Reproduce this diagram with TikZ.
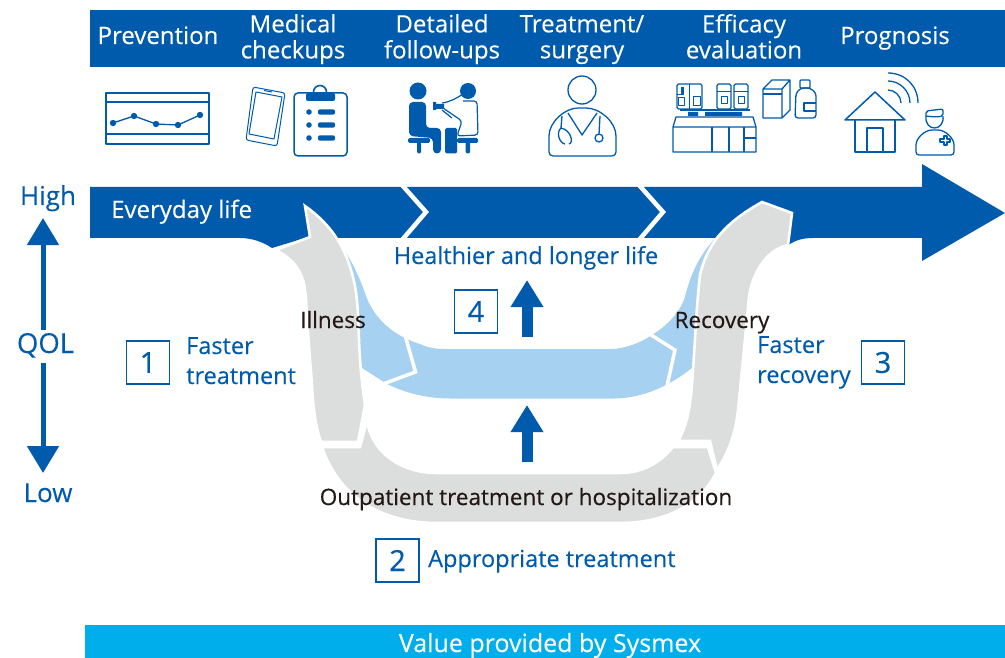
\documentclass[tikz,border=0pt]{standalone}
\usepackage{fontspec}
\setmainfont[FakeBold=0.2]{Open Sans}
\newfontfamily\labelfont[FakeBold=0.5]{Open Sans}
\newcommand{\twolines}[2]{\rule{0pt}{18pt}#1\\#2\rule[-6pt]{0pt}{6pt}}
\usetikzlibrary{arrows.meta}
\definecolor{sysblue}{HTML}{005BAC}
\definecolor{skyfill}{HTML}{A7D1F1}
\definecolor{greyfill}{HTML}{DCDDDD}
\definecolor{cyanbar}{HTML}{00AEEB}
\definecolor{inkblack}{HTML}{231815}
\tikzset{
  head/.style={text=white,font=\fontsize{24}{26}\selectfont,align=center,inner sep=0},
  bluetxt/.style={text=sysblue,font=\fontsize{23.5}{30}\selectfont,inner sep=0},
  axistxt/.style={text=sysblue,font=\fontsize{26}{30}\selectfont,inner sep=0},
  blacktxt/.style={text=inkblack,font=\labelfont\fontsize{22.5}{25}\selectfont,inner sep=0},
  numbox/.style={draw=sysblue,line width=1.2pt,fill=white,minimum size=43pt,inner sep=0,text=sysblue,font=\labelfont\fontsize{29}{30}\selectfont},
  bigup/.style={draw=sysblue,line width=11pt,-{Triangle[length=27pt,width=31pt]}},
  qolarrow/.style={draw=sysblue,line width=5pt,-{Triangle[length=27pt,width=31pt]}},
  icon/.style={draw=sysblue,line width=1.3pt,line join=round,fill=none},
  iconthin/.style={draw=sysblue,line width=1pt,line join=round,fill=none},
  solidic/.style={fill=sysblue,draw=none},
  band/.style={fill=greyfill,draw=white,line width=2.6pt,line join=miter},
  gapline/.style={draw=white,line width=3.5pt,line join=miter},
}
\begin{document}
\begin{tikzpicture}[x=1pt,y=-1pt]
\useasboundingbox (0,0) rectangle (1005,658);
% bars
\fill[sysblue] (90,10) rectangle (1005,67);
\fill[cyanbar] (85,625) rectangle (1005,658);
% main arrow
\fill[sysblue] (90,187) -- (922,187) -- (922,164) -- (1005,213) -- (922,261) -- (922,238) -- (813,238)
  .. controls (803,238) and (795,240) .. (787,246) -- (770,238) -- (305,238) -- (272,248)
  .. controls (263,242) and (252,238) .. (240,238) -- (90,238) -- cycle;
\draw[white,line width=4.5pt,line join=miter] (402,185) -- (426,212) -- (402,240);
\draw[white,line width=4.5pt,line join=miter] (639,185) -- (663,212) -- (639,240);
% sky band
\fill[skyfill] (330,233) .. controls (343,245) and (355,265) .. (365,293)
  .. controls (372,315) and (390,335) .. (420,344) .. controls (428,348) and (437,349) .. (445,349) -- (610,349)
  .. controls (625,349) and (640,343) .. (652,335) .. controls (668,325) and (680,312) .. (685,297)
  .. controls (690,275) and (700,255) .. (712,242) .. controls (725,225) and (742,213) .. (760,203)
  -- (720,300) -- (693,367) .. controls (680,378) and (660,390) .. (640,395) .. controls (632,397) and (622,398.5) .. (615,398.5)
  -- (450,398.5) .. controls (428,398.5) and (405,393) .. (387,384) -- (362,368) -- (340,300) -- cycle;
\draw[gapline] (405,335) -- (415.5,372) -- (383,384);
\draw[gapline] (648,333) -- (675,350) -- (667,386);
% grey bands
\path[band] (276,250) -- (310,237) -- (305,206)
  .. controls (325,220) and (342,240) .. (350,267)
  .. controls (356,285) and (358,300) .. (359,340)
  .. controls (360,365) and (362,385) .. (365,405) -- (358,442) -- (321,442)
  .. controls (315,425) and (313,405) .. (312,385) -- (308,333)
  .. controls (306,300) and (306,285) .. (301,275)
  .. controls (296,263) and (287,256) .. (276,250) -- cycle;
\path[band] (322,447) -- (360,447) -- (367,421)
  .. controls (372,452) and (400,473) .. (437,473) -- (620,473)
  .. controls (642,473) and (660,463) .. (673,447) -- (708,447) -- (716,473)
  .. controls (700,505) and (665,523) .. (620,523) -- (437,523)
  .. controls (385,523) and (340,500) .. (322,447) -- cycle;
\path[band] (678,441) .. controls (686,428) and (690,410) .. (692,385)
  .. controls (695,345) and (696,310) .. (700,275)
  .. controls (708,240) and (730,220) .. (762,202) -- (792,213) -- (788,245)
  .. controls (765,250) and (752,275) .. (749,297)
  .. controls (746,330) and (742,370) .. (738,410)
  .. controls (736,430) and (730,450) .. (717,470) -- (710,441) -- cycle;
% icon 1: chart
\draw[icon] (106,93) rectangle (209,144) (106,102) -- (209,102) (106,134) -- (209,134);
\draw[icon] (113,123) -- (134,116) -- (156,124) -- (178,125) -- (200,115);
\foreach \p in {(113,123),(134,116),(156,124),(178,125),(200,115)} \fill[sysblue] \p circle (3.2);
% icon 2: phone
\draw[iconthin,rounded corners=2.5pt] (253,87) -- (285,93) -- (277,146) -- (246,140) -- cycle;
\draw[iconthin] (256,92) -- (282,97) -- (274,139) -- (249,134) -- cycle;
\draw[iconthin] (264,90.5) -- (272,92);
% clipboard
\draw[icon,line width=1.5pt,rounded corners=4pt] (294,93) rectangle (347,156);
\draw[icon,line width=1.6pt] (320,92) circle (6.5);
\fill[sysblue,rounded corners=2pt] (306,93) rectangle (335,101);
\foreach \y in {112,125,138}{
  \fill[sysblue] (309,\y) circle (2.8);
  \fill[sysblue,rounded corners=2pt] (318,\y-2.7) rectangle (335,\y+2.7);
}
% icon 3: consultation
\fill[sysblue] (418,91) circle (8.5) (468,91) circle (8);
\fill[solidic,rounded corners=4pt] (409,102) -- (426,102) -- (426,128) -- (441,128) -- (441,153.5) -- (433,153.5) -- (433,138) -- (409,136) -- cycle;
\fill[solidic,rounded corners=1.5pt] (408,138) rectangle (430,143) (417,140) rectangle (421,153.5);
\fill[solidic,rounded corners=1.5pt] (445,128) rectangle (457,153.5);
\fill[solidic,rounded corners=1.5pt] (457,138) rectangle (478,143) (465.5,140) rectangle (470,153.5);
\draw[icon,rounded corners=3pt,line width=1.2pt] (443,108) -- (462,121) -- (457,136) -- (478,135) -- (477,101) -- (463,101);
\draw[icon,line width=1.2pt] (442,103) .. controls (450,102) and (457,98) .. (463,94);
\fill[solidic] (433,102) rectangle (436,110) (436,104) rectangle (444,109);
\draw[icon,line width=1.2pt] (442,110) -- (452,118);
% icon 4: doctor
\draw[icon] (582,90) circle (14);
\draw[icon,rounded corners=4pt] (549,156) -- (549,140) .. controls (549,122) and (565,108) .. (582,108) .. controls (600,108) and (616,122) .. (616,140) -- (616,156) -- cycle;
\draw[icon] (568,113) -- (582,135) -- (597,113);
\draw[icon] (562,116) -- (561,128) .. controls (556,132) and (559,143) .. (565,144) (561,128) .. controls (571,130) and (574,143) .. (569,144);
\draw[icon] (600,116) -- (599,134);
\draw[icon] (599,138) circle (4);
% icon 5: analyser
\draw[icon] (673,127) -- (673,152) -- (756,152) -- (756,127) -- (753,117) -- (676,117) -- cycle (673,127) -- (756,127);
\draw[icon] (712,127) -- (712,152) (729,127) -- (729,152) (744,127) -- (744,152) (744,138) -- (756,138);
\draw[icon,rounded corners=1.5pt] (677,84) rectangle (702,109);
\draw[icon,rounded corners=1.5pt] (717,84) rectangle (731,109);
\draw[icon,rounded corners=1.5pt] (734,84) rectangle (748,109);
\draw[iconthin] (689,84) -- (689,109) (684,95) -- (677,95) (684,98) rectangle (678,106) (693,97) rectangle (700,106) (717,92) -- (731,92) (734,92) -- (748,92) (721,97) rectangle (727,104) (738,97) rectangle (744,104);
\fill[sysblue] (681,87) rectangle (684,94);
\fill[sysblue] (688,112) rectangle (698,116) (705,112) rectangle (742,116);
\draw[icon] (680,110) -- (750,110);
% box
\draw[icon] (763,89) rectangle (782,118) (763,89) -- (772,80) -- (790,80) -- (790,110) -- (782,118) (782,89) -- (790,80);
\draw[icon] (763,94) -- (782,94);
% bottle
\draw[icon,rounded corners=3pt] (801,88) -- (796,93) -- (795,118) -- (816,118) -- (816,93) -- (810,88) -- cycle;
\draw[icon,rounded corners=1pt] (800,80) rectangle (810,88);
\draw[icon] (816,103) -- (804,103) -- (804,111) -- (816,111);
% house
\draw[icon,line width=1.5pt] (845,120) -- (875,92) -- (905,120) -- cycle;
\draw[icon,line width=1.5pt] (855,120) -- (855,152) -- (895,152) -- (895,120);
\draw[icon,line width=1.5pt] (867,152) -- (867,128) -- (883,128) -- (883,152);
\draw[icon] (888,90) .. controls (895,90) and (901,96) .. (901,103);
\draw[icon] (888,81) .. controls (900,81) and (910,91) .. (910,103);
\draw[icon] (888,73) .. controls (905,73) and (918,86) .. (918,103);
% nurse
\draw[icon,rounded corners=3pt] (916,155) -- (916,148) .. controls (916,138) and (925,130) .. (935,130) .. controls (945,130) and (954,138) .. (954,148) -- (954,155) -- cycle;
\draw[icon] (926,116) .. controls (925,124) and (930,128) .. (934.5,128) .. controls (939,128) and (944,124) .. (943,116);
\draw[icon,rounded corners=2pt] (926,116) -- (926,111) -- (943,109) -- (943,116) .. controls (938,117) and (932,117) .. (926,116);
\draw[icon] (940,139) -- (944,139) -- (944,136) -- (947,136) -- (947,139) -- (950,139) -- (950,142) -- (947,142) -- (947,145) -- (944,145) -- (944,142) -- (940,142) -- cycle;
% header text
\node[head,anchor=base] (tprev) at (158,44) {Prevention};
\node[head] (tmed) at (293,39.3) {\twolines{Medical}{checkups}};
\node[head] (tdet) at (442,39.3) {\twolines{Detailed}{follow-ups}};
\node[head] (ttre) at (582,39.3) {\twolines{Treatment/}{surgery}};
\node[head] (teff) at (744,39.3) {\twolines{Efficacy}{evaluation}};
\node[head,anchor=base] (tpro) at (895,44) {Prognosis};
\node[head,anchor=base west] (tday) at (111,218) {Everyday life};
% QOL axis
\node[axistxt,anchor=base] (high) at (48,205) {High};
\node[axistxt,anchor=base,font=\fontsize{27.5}{30}\selectfont] (qol) at (45.5,353) {QOL};
\node[axistxt,anchor=base] (low) at (48,502) {Low};
\coordinate (qa) at (43,330);
\coordinate (qt) at (43,218);
\coordinate (qb) at (43,363);
\coordinate (qd) at (43,473);
\draw[qolarrow] (qa) -- (qt);
\draw[qolarrow] (qb) -- (qd);
% numbered labels
\node[numbox] (n1) at (148,362.5) {1};
\node[numbox] (n2) at (397.5,560.5) {2};
\node[numbox] (n3) at (883,362.5) {3};
\node[numbox] (n4) at (476,311.5) {4};
\node[bluetxt,anchor=west,align=left] (t1) at (186,363) {\twolines{Faster}{treatment}};
\node[bluetxt,anchor=west,align=left] (t3) at (757,362) {\twolines{Faster}{recovery}};
\node[bluetxt,anchor=base west] (t2) at (428,567) {Appropriate treatment};
\node[bluetxt,anchor=base] (t4) at (526,264) {Healthier and longer life};
% up arrows
\coordinate (a1) at (527,337);
\coordinate (a2) at (527,280);
\coordinate (b1) at (527,462);
\coordinate (b2) at (527,405);
\draw[bigup] (a1) -- (a2);
\draw[bigup] (b1) -- (b2);
% black labels
\node[blacktxt,anchor=base] (ill) at (333,328) {Illness};
\node[blacktxt,anchor=base] (rec) at (722,328) {Recovery};
\node[blacktxt,anchor=base] (out) at (526,505) {Outpatient treatment or hospitalization};
\node[head,anchor=base,font=\fontsize{25}{26}\selectfont] (val) at (550,652) {Value provided by Sysmex};
\end{tikzpicture}
\end{document}
